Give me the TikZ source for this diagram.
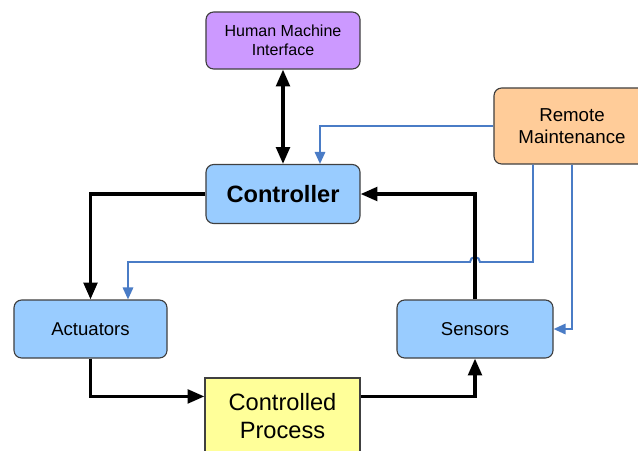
\documentclass[tikz,border=0pt]{standalone}
\usepackage{fontspec}
\setmainfont{Liberation Sans}
\usetikzlibrary{arrows.meta,calc}

\definecolor{boxblue}{HTML}{99CCFF}
\definecolor{boxviolet}{HTML}{CC99FF}
\definecolor{boxorange}{HTML}{FFCC99}
\definecolor{boxyellow}{HTML}{FFFF99}
\definecolor{linkblue}{HTML}{4A7CC6}

\begin{document}
\begin{tikzpicture}[
  x=0.025cm, y=-0.025cm,
  mybox/.style={
    draw=black!75,
    line width=0.8pt,
    rounded corners=5.5pt,
    inner sep=0pt,
    align=center
  },
  myflow/.style={
    line width=2.4pt,
    -{Triangle[length=0.42cm,width=0.34cm]}
  },
  myblue/.style={
    draw=linkblue,
    line width=1.4pt,
    -{Triangle[length=0.3cm,width=0.26cm]}
  }
]
\clip (0,0) rectangle (638,450);
\fill[white] (0,0) rectangle (638,450);

\node[mybox, fill=boxviolet, minimum width=3.85cm, minimum height=1.425cm,
  font=\fontsize{11.4}{13.5}\selectfont] (hmi) at (283,40.5) {Human Machine\\Interface};
\node[mybox, fill=boxblue, minimum width=3.85cm, minimum height=1.475cm,
  font=\fontsize{16.8}{19}\selectfont\bfseries] (ctrl) at (283,194) {Controller};
\node[mybox, fill=boxorange, minimum width=3.9cm, minimum height=1.9cm,
  font=\fontsize{13.3}{15.6}\selectfont] (rm) at (572,126) {Remote\\Maintenance};
\node[mybox, fill=boxblue, minimum width=3.825cm, minimum height=1.45cm,
  font=\fontsize{13.2}{15}\selectfont] (act) at (90.5,329) {Actuators};
\node[mybox, fill=boxblue, minimum width=3.9cm, minimum height=1.45cm,
  font=\fontsize{13.2}{15}\selectfont] (sen) at (475,329) {Sensors};
\node[mybox, rounded corners=0pt, fill=boxyellow, minimum width=3.875cm, minimum height=1.9cm,
  font=\fontsize{16.8}{20}\selectfont] (proc) at (282.5,416) {Controlled\\Process};

% remote maintenance links
\coordinate (ctrlin) at ($(ctrl.north)+(37,0)$);
\coordinate (actin) at ($(act.north)+(37.5,0)$);
\coordinate (rmout) at ($(rm.south)+(-39,0)$);
\coordinate (hop) at (sen.north |- 0,262);
\draw[myblue] (rm.west) -| (ctrlin);
\draw[myblue] (rmout) |- ($(hop)+(5,0)$) arc[start angle=0, end angle=-180, radius=5]
  -- (actin |- hop) -- (actin);
\draw[myblue] (rm.south) |- (sen.east);

% black control loop
\draw[myflow, {Triangle[length=0.42cm,width=0.34cm]}-{Triangle[length=0.42cm,width=0.34cm]}] (hmi.south) -- (ctrl.north);
\draw[myflow] (ctrl.west) -| (act.north);
\draw[myflow] (act.south) |- ($(proc.north west)+(0,19)$);
\draw[myflow] ($(proc.north east)+(0,19)$) -| (sen.south);
\draw[myflow] (sen.north) |- (ctrl.east);
\end{tikzpicture}
\end{document}
